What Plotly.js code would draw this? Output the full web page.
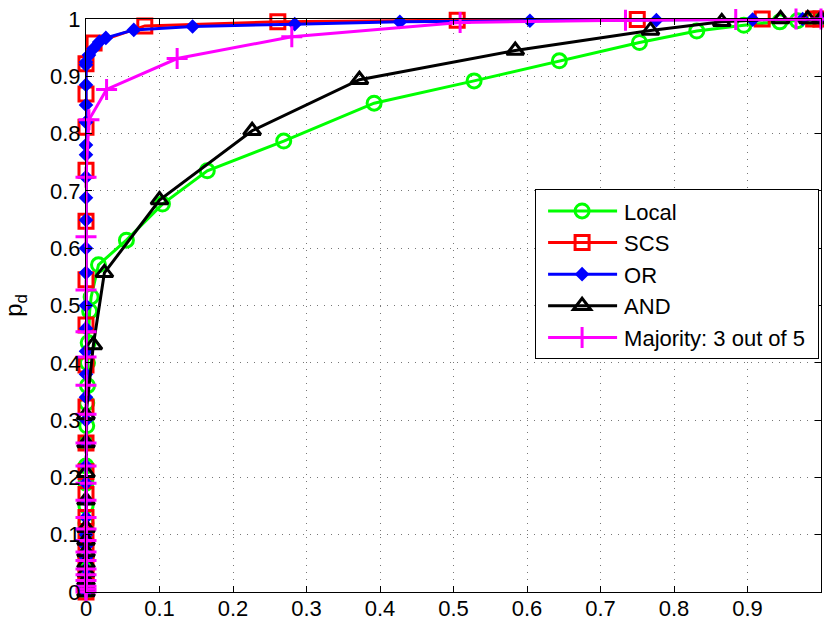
<!DOCTYPE html>
<html>
<head>
<meta charset="utf-8">
<script src="https://cdn.plot.ly/plotly-3.0.1.min.js"></script>
<style>
  html, body { margin: 0; padding: 0; background: #fff; }
  #chart { width: 824px; height: 621px; }
</style>
</head>
<body>
<div id="chart"></div>
<script>
// ROC curves: probability of detection vs. probability of false alarm
const seriesNames = ["Local", "SCS", "OR", "AND", "Majority: 3 out of 5"];

const localPf = [0,0,0,0,0,0,0,0,0,0,0,0.001,0.001,0.002,0.002,0.003,0.005,0.007,0.017,0.055,0.104,0.165,0.269,0.392,0.528,0.644,0.753,0.831,0.895,0.944,0.968,0.99,1];
const localPd = [0,0.01,0.02,0.04,0.06,0.09,0.12,0.15,0.19,0.22,0.26,0.29,0.33,0.36,0.40,0.435,0.49,0.515,0.571,0.614,0.677,0.735,0.787,0.853,0.892,0.927,0.959,0.979,0.989,0.995,0.997,1,1];

const scsPf = [0,0,0,0,0,0,0,0,0,0,0,0,0,0,0,0,0,0,0,0.011,0.08,0.261,0.505,0.75,0.92,0.99,1];
const scsPd = [0,0.015,0.03,0.05,0.075,0.1,0.13,0.17,0.21,0.26,0.323,0.396,0.466,0.545,0.647,0.736,0.811,0.869,0.922,0.958,0.988,0.995,0.998,0.999,1,1,1];

const orPf = [0,0,0,0,0,0,0,0,0,0,0,0,0,0,0,0,0,0,0,0,0,0,0,0,0,0,0,0,0,0.004,0.01,0.018,0.027,0.065,0.145,0.284,0.427,0.604,0.776,0.907,0.975,1];
const orPd = [0,0.02,0.04,0.06,0.08,0.1,0.13,0.16,0.19,0.22,0.26,0.3,0.34,0.38,0.42,0.46,0.5,0.557,0.6,0.649,0.688,0.724,0.763,0.78,0.82,0.85,0.885,0.92,0.925,0.937,0.948,0.96,0.967,0.981,0.987,0.991,0.995,0.997,0.998,0.999,1,1];

const andPf = [0,0,0,0,0,0,0,0,0,0,0,0,0.01,0.025,0.1,0.226,0.372,0.584,0.768,0.865,0.945,0.982,1];
const andPd = [0,0.01,0.02,0.035,0.05,0.07,0.09,0.112,0.16,0.208,0.26,0.309,0.431,0.557,0.684,0.805,0.894,0.945,0.98,0.995,1,1,1];

const majPf = [0,0,0,0,0,0,0,0,0,0,0,0,0,0,0,0,0,0,0,0,0,0,0.004,0.028,0.124,0.28,0.509,0.734,0.884,0.966,1];
const majPd = [0,0.005,0.01,0.02,0.03,0.04,0.055,0.07,0.09,0.11,0.13,0.16,0.19,0.22,0.26,0.31,0.361,0.41,0.454,0.527,0.62,0.724,0.824,0.877,0.931,0.969,0.994,0.998,0.999,1,1];

const xTicks = [0,0.1,0.2,0.3,0.4,0.5,0.6,0.7,0.8,0.9,1];
const xTickText = ["0","0.1","0.2","0.3","0.4","0.5","0.6","0.7","0.8","0.9","1"];
const yTicks = [0,0.1,0.2,0.3,0.4,0.5,0.6,0.7,0.8,0.9,1];
const yTickText = ["0","0.1","0.2","0.3","0.4","0.5","0.6","0.7","0.8","0.9","1"];

const FONT = "Liberation Sans, Arial, Helvetica, sans-serif";

function curve(name, x, y, color, symbol, size) {
  return {
    type: "scatter",
    mode: "lines+markers",
    name: name,
    x: x,
    y: y,
    cliponaxis: false,
    line: { color: color, width: 3 },
    marker: {
      symbol: symbol,
      size: size,
      color: color,
      line: { color: color, width: 3 }
    }
  };
}

const traces = [
  curve(seriesNames[0], localPf, localPd, "#00ff00", "circle-open", 14),
  curve(seriesNames[1], scsPf, scsPd, "#ff0000", "square-open", 14),
  curve(seriesNames[2], orPf, orPd, "#0000ff", "diamond", 8),
  curve(seriesNames[3], andPf, andPd, "#000000", "triangle-up-open", 15),
  curve(seriesNames[4], majPf, majPd, "#ff00ff", "cross-thin-open", 15)
];

const axisCommon = {
  range: [0, 1],
  showline: true,
  linecolor: "#000",
  linewidth: 1,
  mirror: "ticks",
  ticks: "inside",
  ticklen: 6,
  tickcolor: "#000",
  showgrid: true,
  gridcolor: "#777",
  gridwidth: 1,
  griddash: "1px,6px",
  zeroline: false,
  tickfont: { family: FONT, size: 22, color: "#000" }
};

const layout = {
  width: 824,
  height: 621,
  margin: { l: 86, r: 3, t: 19, b: 29 },
  paper_bgcolor: "#fff",
  plot_bgcolor: "#fff",
  showlegend: true,
  legend: {
    x: 0.611, y: 0.703,
    xanchor: "left", yanchor: "top",
    bgcolor: "#fff",
    bordercolor: "#000",
    borderwidth: 1,
    font: { family: FONT, size: 22, color: "#000" },
    tracegroupgap: 0
  },
  xaxis: Object.assign({}, axisCommon, {
    tickvals: xTicks, ticktext: xTickText, ticklabelstandoff: -3
  }),
  yaxis: Object.assign({}, axisCommon, {
    tickvals: yTicks, ticktext: yTickText,
    title: { text: "p<sub>d</sub>", font: { family: FONT, size: 24, color: "#000" }, standoff: 20 }
  })
};

// Longer legend samples: stretch each entry's line, centre its marker and push the label right
function widenLegend(gd) {
  const legend = gd.querySelector(".legend");
  if (!legend) return;
  const extra = 48;
  legend.querySelectorAll(".traces").forEach(function (item) {
    item.querySelectorAll(".legendlines path").forEach(function (p) {
      p.setAttribute("d", "M12,0h69");
    });
    item.querySelectorAll(".legendpoints path").forEach(function (p) {
      p.setAttribute("transform", "translate(46,0)");
    });
    const txt = item.querySelector("text.legendtext");
    if (txt) txt.setAttribute("x", String(parseFloat(txt.getAttribute("x")) + extra));
  });
  const boxWidth = 283;
  const bg = legend.querySelector("rect.bg");
  if (bg) bg.setAttribute("width", String(boxWidth));
  legend.querySelectorAll("[clip-path]").forEach(function (el) {
    el.removeAttribute("clip-path");
  });
}

Plotly.newPlot("chart", traces, layout, { displayModeBar: false, staticPlot: true })
  .then(widenLegend);
</script>
</body>
</html>
